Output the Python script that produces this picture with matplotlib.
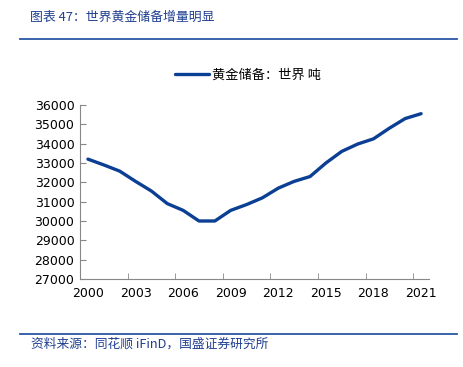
import matplotlib.pyplot as plt
import numpy as np

plt.rcParams['font.family'] = ['Noto Sans CJK SC', 'DejaVu Sans']

# 世界黄金储备（吨）
years = list(range(2000, 2022))
reserves = [33200, 32900, 32580, 32050, 31550, 30900, 30550, 30000, 30000, 30550,
            30850, 31200, 31700, 32050, 32300, 33000, 33600, 33980, 34250, 34800,
            35300, 35550]
tick_years = [2000, 2003, 2006, 2009, 2012, 2015, 2018, 2021]
legend_label = "黄金储备：世界 吨"
title = "图表 47：世界黄金储备增量明显"
source = "资料来源：同花顺 iFinD，国盛证券研究所"

blue = "#0b3f94"
text_blue = "#1f3f8f"

fig = plt.figure(figsize=(4.63, 3.67), dpi=100)
ax = fig.add_axes([0.1728, 0.2398, 0.7538, 0.4741])

ax.plot(years, reserves, color=blue, lw=2.4, label=legend_label, solid_capstyle='round')

ax.set_xlim(1999.5, 2021.5)
ax.set_ylim(27000, 36000)
ax.set_yticks(np.arange(27000, 36001, 1000))
ax.set_xticks(tick_years)
ax.set_xticklabels([str(y) for y in tick_years])
# tick marks sit on category boundaries, labels on category centres
ax.set_xticks([y - 0.5 for y in tick_years], minor=True)
ax.tick_params(axis='x', which='major', length=0, pad=6)
ax.tick_params(axis='x', which='minor', direction='in', length=4, color='#888888')
ax.tick_params(axis='y', direction='in', length=4, color='#888888', pad=4)
for lab in ax.get_xticklabels() + ax.get_yticklabels():
    lab.set_fontfamily('DejaVu Sans')
    lab.set_fontsize(9)

for s in ['top', 'right']:
    ax.spines[s].set_visible(False)
for s in ['left', 'bottom']:
    ax.spines[s].set_color('#888888')
    ax.spines[s].set_linewidth(0.8)

leg = fig.legend(loc='center left', bbox_to_anchor=(0.378, 0.794), frameon=False,
                 fontsize=9.5, handlelength=2.6, handletextpad=0.2,
                 borderpad=0, borderaxespad=0)

# header and footer
fig.text(0.065, 0.953, title, fontsize=9.3, color=text_blue, va='center', ha='left')
fig.add_artist(plt.Line2D([0.043, 0.988], [0.893, 0.893], color='#2a56a5', lw=1.3))
fig.add_artist(plt.Line2D([0.043, 0.988], [0.09, 0.09], color='#2a56a5', lw=1.3))
fig.text(0.068, 0.062, source, fontsize=9.2, color=text_blue, va='center', ha='left')

fig.savefig("out.png", dpi=100)
